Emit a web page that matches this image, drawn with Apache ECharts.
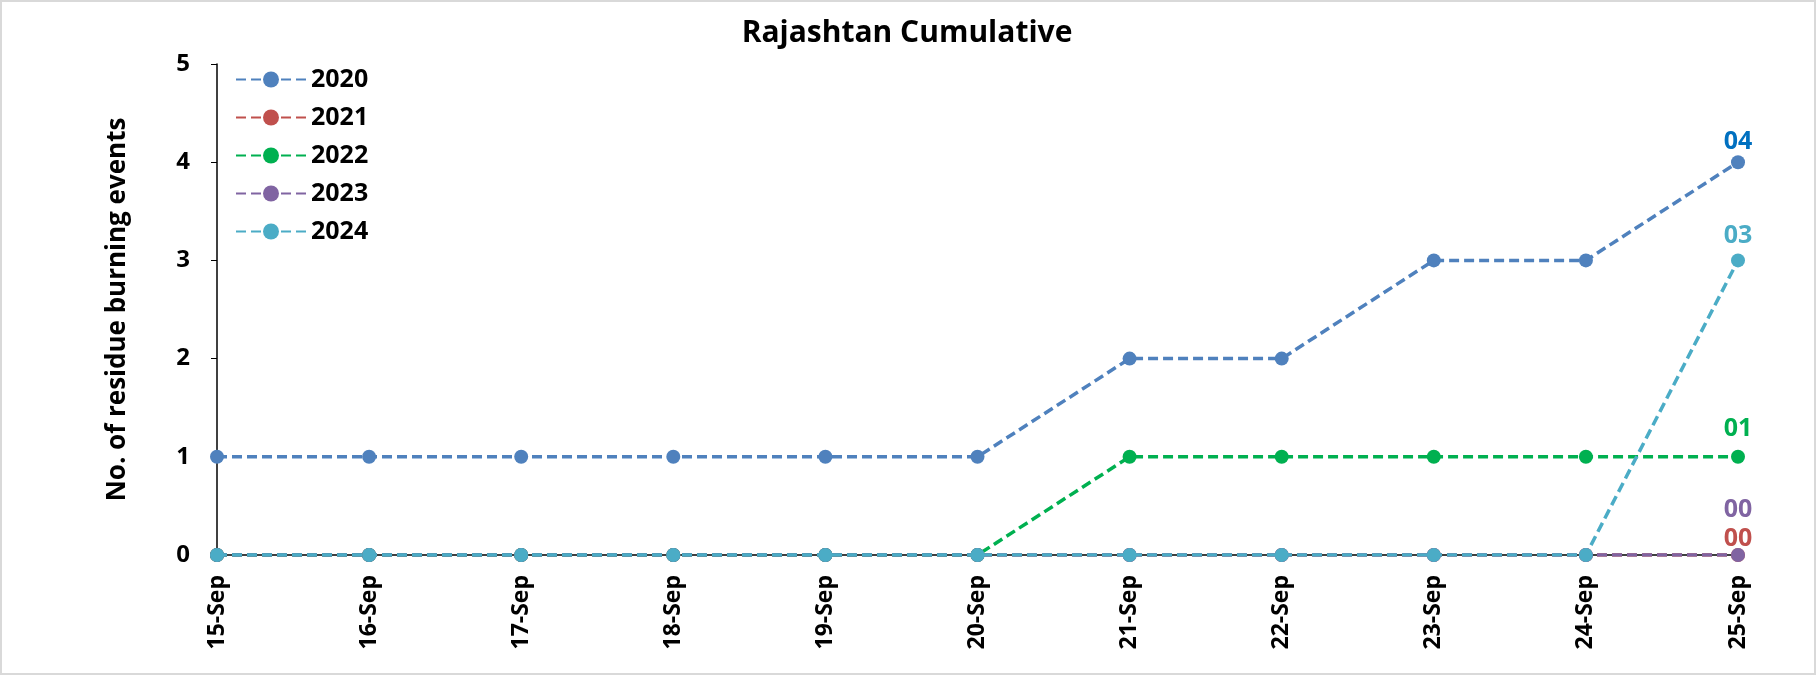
<!DOCTYPE html>
<html>
<head>
<meta charset="utf-8">
<script src="https://cdn.jsdelivr.net/npm/echarts@6/dist/echarts.min.js"></script>
<style>
  html, body { margin: 0; padding: 0; background: #fff; }
  #chart { width: 1816px; height: 675px; box-sizing: border-box; border: 2px solid #d9d9d9; }
</style>
</head>
<body>
<div id="chart"></div>
<script>
var days = ['15-Sep','16-Sep','17-Sep','18-Sep','19-Sep','20-Sep','21-Sep','22-Sep','23-Sep','24-Sep','25-Sep'];
var years = ['2020','2021','2022','2023','2024'];
var v2020 = [1,1,1,1,1,1,2,2,3,3,4];
var v2021 = [0,0,0,0,0,0,0,0,0,0,0];
var v2022 = [0,0,0,0,0,0,1,1,1,1,1];
var v2023 = [0,0,0,0,0,0,0,0,0,0,0];
var v2024 = [0,0,0,0,0,0,0,0,0,0,3];
var yTicks = [0,1,2,3,4,5];

var lineColors = ['#4F81BD','#C0504D','#00B050','#8064A2','#4BACC6'];
var labelColors = ['#0070C0','#C0504D','#00B050','#8064A2','#4BACC6'];
var labelOffsets = [[0,4],[0,8],[0,-3],[0,-21],[0,0]];
var allValues = [v2020, v2021, v2022, v2023, v2024];

var font = '"Open Sans", sans-serif';
var myChart = echarts.init(document.getElementById('chart'));

var series = years.map(function(y, i){
    var last = allValues[i].length - 1;
    return {
        name: y,
        type: 'line',
        data: allValues[i],
        symbol: 'circle',
        symbolSize: 14,
        z: 3 + i,
        lineStyle: { color: lineColors[i], width: 3.5, type: [10, 5] },
        itemStyle: { color: lineColors[i] },
        label: {
            show: true,
            position: 'top',
            offset: labelOffsets[i],
            color: labelColors[i],
            fontFamily: font,
            fontWeight: 'bold',
            fontSize: 25,
            formatter: function(p){
                if (p.dataIndex !== last) return '';
                return (p.value < 10 ? '0' : '') + p.value;
            }
        },
        emphasis: { disabled: true }
    };
});

option = {
    animation: false,
    title: {
        text: 'Rajashtan Cumulative',
        left: 900,
        top: 11,
        textAlign: 'center',
        textStyle: { fontFamily: font, fontWeight: 'bold', fontSize: 30, color: '#000' }
    },
    legend: {
        orient: 'vertical',
        left: 228,
        top: 60,
        itemGap: 13,
        itemWidth: 70,
        itemHeight: 20,
        textStyle: { fontFamily: font, fontWeight: 'bold', fontSize: 25, color: '#000' },
        data: years
    },
    grid: { left: 215, right: 76, top: 62, bottom: 118 },
    xAxis: {
        type: 'category',
        data: days,
        boundaryGap: false,
        axisLine: { lineStyle: { color: '#000', width: 1.5 } },
        axisTick: { alignWithLabel: true, length: 5, lineStyle: { color: '#000' } },
        axisLabel: { rotate: 90, color: '#000', fontFamily: font, fontWeight: 'bold', fontSize: 23, margin: 20 }
    },
    yAxis: {
        type: 'value',
        min: yTicks[0],
        max: yTicks[yTicks.length - 1],
        interval: 1,
        name: 'No. of residue burning events',
        nameLocation: 'middle',
        nameGap: 86,
        nameTextStyle: { fontFamily: font, fontWeight: 'bold', fontSize: 26, color: '#000' },
        splitLine: { show: false },
        axisLine: { show: true, lineStyle: { color: '#000', width: 1.5 } },
        axisTick: { show: true, length: 6, lineStyle: { color: '#000' } },
        axisLabel: { color: '#000', fontFamily: font, fontWeight: 'bold', fontSize: 24, margin: 27 }
    },
    series: series
};

myChart.setOption(option);
</script>
</body>
</html>
